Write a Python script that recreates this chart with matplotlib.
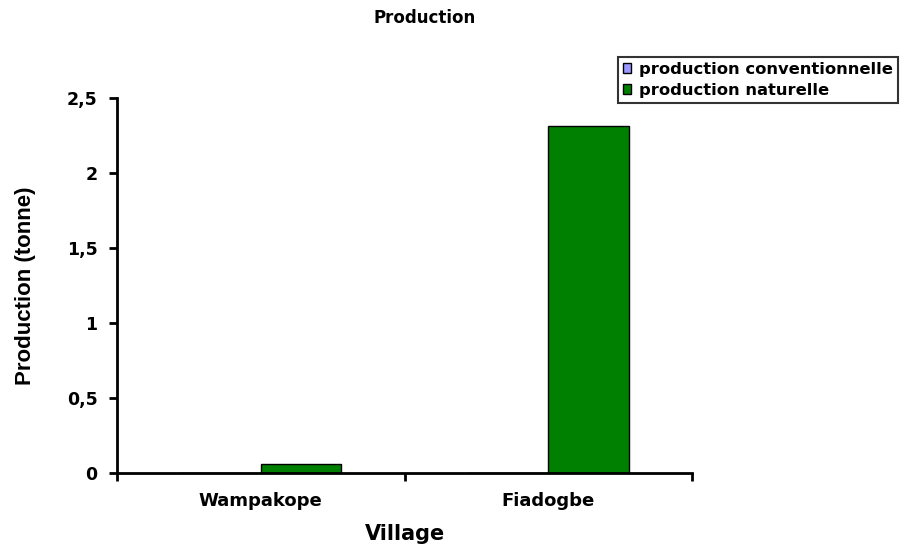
import numpy as np
from matplotlib import pyplot as plt
from matplotlib.ticker import FuncFormatter

plt.rcParams['font.family'] = ['DejaVu Sans']
plt.rcParams['font.weight'] = 'bold'

# donnees
villages = ["Wampakope", "Fiadogbe"]
prod_conventionnelle = [0.0, 0.0]
prod_naturelle = [0.06, 2.31]
series_names = ["production conventionnelle", "production naturelle"]

fig = plt.figure(figsize=(9.15, 5.48), dpi=100)
ax = fig.add_axes([0.1279, 0.1369, 0.6284, 0.6843])

x = np.arange(len(villages))
w = 0.28
ax.bar(x - w / 2, prod_conventionnelle, width=w, color="#9999ff",
       edgecolor="black", linewidth=1, label=series_names[0])
ax.bar(x + w / 2, prod_naturelle, width=w, color="#008000",
       edgecolor="black", linewidth=1, label=series_names[1])

ax.set_xlim(-0.5, len(villages) - 0.5)
ax.set_ylim(0, 2.5)
ax.set_yticks(np.arange(0, 2.51, 0.5))
ax.yaxis.set_major_formatter(FuncFormatter(lambda v, p: f"{v:g}".replace(".", ",")))

# ticks x aux limites des categories, labels au centre
ax.set_xticks(np.arange(-0.5, len(villages), 1.0))
ax.set_xticklabels([])
ax.set_xticks(x, minor=True)
ax.set_xticklabels(villages, minor=True, fontsize=13, fontweight="bold")
ax.tick_params(axis="x", which="minor", length=0, pad=14)
ax.tick_params(axis="x", which="major", length=6, width=2, direction="out")
ax.tick_params(axis="y", length=6, width=2, direction="out", labelsize=12.5, pad=8)

for s in ["top", "right"]:
    ax.spines[s].set_visible(False)
for s in ["left", "bottom"]:
    ax.spines[s].set_linewidth(2)

ax.set_xlabel("Village", fontsize=15, fontweight="bold", labelpad=10)
ax.set_ylabel("Production (tonne)", fontsize=16, fontweight="bold",
              family=["Liberation Sans", "DejaVu Sans"], labelpad=22)

fig.text(0.4645, 0.967, "Production", ha="center", va="center",
         fontsize=12, fontweight="bold")

leg = ax.legend(loc="upper left", bbox_to_anchor=(618 / 915, 1 - 57 / 548),
                bbox_transform=fig.transFigure, fontsize=11.8, frameon=True,
                fancybox=False, edgecolor="black", handlelength=0.5,
                handleheight=0.5, handletextpad=0.5, borderpad=0.3,
                labelspacing=0.35, borderaxespad=0)
leg.get_frame().set_linewidth(1.5)
for t in leg.get_texts():
    t.set_fontweight("bold")

plt.savefig("out.png", dpi=100)
